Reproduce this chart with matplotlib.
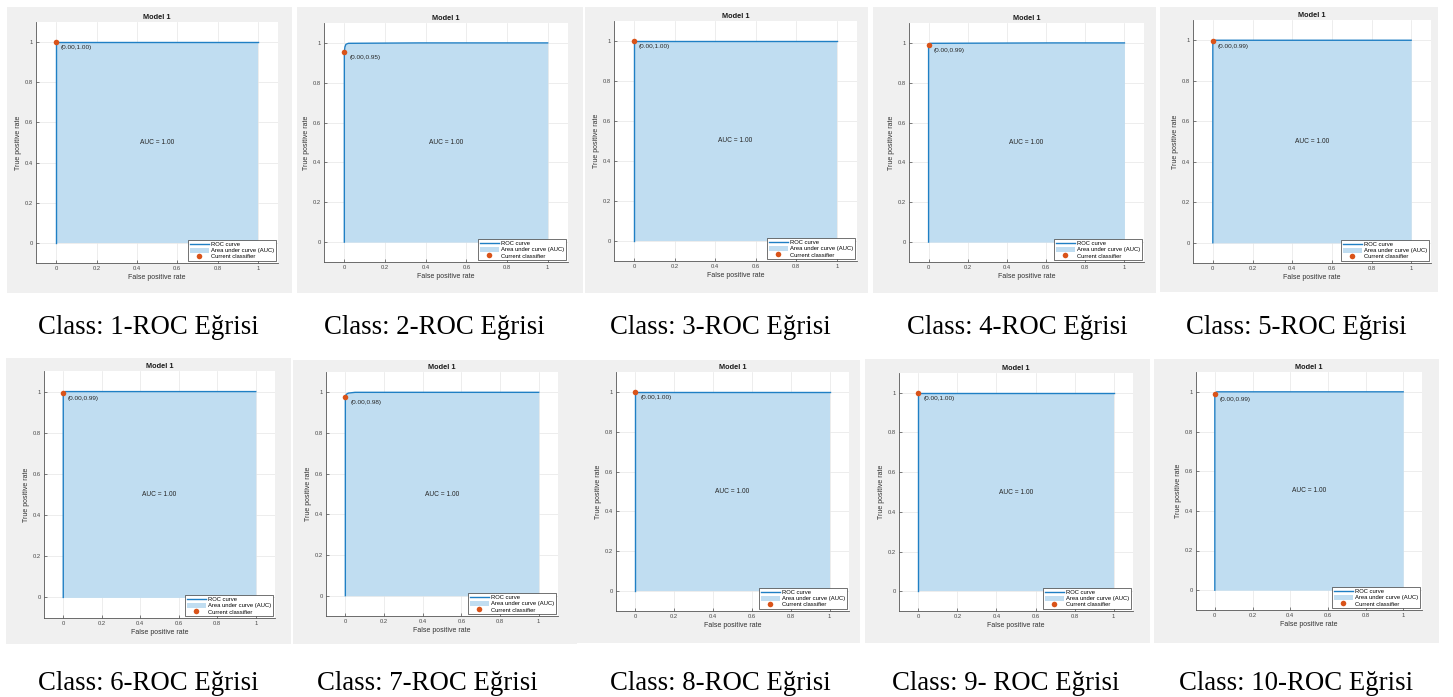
import matplotlib
matplotlib.use("Agg")
import matplotlib.pyplot as plt
from matplotlib.patches import Rectangle

W, H = 1453, 697

# ---- data ----
captions = ["Class: 1-ROC Eğrisi", "Class: 2-ROC Eğrisi", "Class: 3-ROC Eğrisi",
            "Class: 4-ROC Eğrisi", "Class: 5-ROC Eğrisi", "Class: 6-ROC Eğrisi",
            "Class: 7-ROC Eğrisi", "Class: 8-ROC Eğrisi", "Class: 9- ROC Eğrisi",
            "Class: 10-ROC Eğrisi"]
auc_values = [1.00, 1.00, 1.00, 1.00, 1.00, 1.00, 1.00, 1.00, 1.00, 1.00]
op_fpr = [0.00, 0.00, 0.00, 0.00, 0.00, 0.00, 0.00, 0.00, 0.00, 0.00]
op_tpr = [1.00, 0.95, 1.00, 0.99, 0.99, 0.99, 0.98, 1.00, 1.00, 0.99]
op_fpr_shown = [0.00, 0.00, 0.00, 0.00, 0.00, 0.00, 0.00, 0.00, 0.00, 0.00]
op_tpr_shown = [1.00, 0.955, 1.00, 0.99, 0.995, 0.995, 0.975, 1.00, 1.00, 0.99]

roc_fpr = [
    [0, 0, 1],
    [0, 0, 0.003, 0.008, 0.02, 0.37, 1],
    [0, 0, 1],
    [0, 0, 0.01, 0.64, 1],
    [0, 0, 0.01, 1],
    [0, 0, 0.01, 1],
    [0, 0, 0.005, 0.015, 0.05, 1],
    [0, 0, 1],
    [0, 0, 1],
    [0, 0, 0.01, 1],
]
roc_tpr = [
    [0, 1, 1],
    [0, 0.955, 0.98, 0.993, 0.998, 1, 1],
    [0, 1, 1],
    [0, 0.99, 0.998, 1, 1],
    [0, 0.995, 1, 1],
    [0, 0.995, 1, 1],
    [0, 0.975, 0.99, 0.996, 1, 1],
    [0, 1, 1],
    [0, 1, 1],
    [0, 0.99, 1, 1],
]

# ---- layout (pixels, top-left origin) ----
panel_px = [(7, 7, 292, 293), (297, 7, 583, 293), (585, 7, 868, 293),
            (873, 7, 1156, 293), (1160, 7, 1438, 292),
            (6, 358, 291, 644), (293, 360, 577, 644), (576, 360, 860, 643),
            (865, 359, 1150, 643), (1154, 359, 1439, 643)]
axes_px = [(36, 22, 278, 263), (324, 23, 568, 262), (614, 21, 857, 261),
           (909, 23, 1144, 262), (1193, 20, 1431, 263),
           (44, 371, 275, 618), (326, 372, 558, 616), (616, 372, 849, 611),
           (899, 373, 1133, 611), (1196, 372, 1422, 610)]
caption_px = [(148, 327), (434, 327), (720, 327), (1017, 327), (1296, 327),
              (148, 683), (427, 683), (720, 683), (1006, 683), (1296, 683)]

plt.rcParams['font.family'] = ['Liberation Sans', 'DejaVu Sans']

blue = '#1f7fc4'
fill = '#c0ddf1'
orange = '#d95319'
tickc = '#4a4a4a'

fig = plt.figure(figsize=(W / 100, H / 100), dpi=100)


def frac(r):
    x0, y0, x1, y1 = r
    return [x0 / W, 1 - y1 / H, (x1 - x0) / W, (y1 - y0) / H]


for i in range(10):
    # grey window background, kept behind the axes
    px = frac(panel_px[i])
    fig.patches.append(Rectangle((px[0], px[1]), px[2], px[3], transform=fig.transFigure,
                                 facecolor='#f0f0f0', edgecolor='none', zorder=-5))

    ax = fig.add_axes(frac(axes_px[i]))
    ax.set_facecolor('white')
    area = ax.fill_between(roc_fpr[i], roc_tpr[i], 0, color=fill, linewidth=0, zorder=1)
    line, = ax.plot(roc_fpr[i], roc_tpr[i], color=blue, lw=1.0, zorder=2)
    dot, = ax.plot(op_fpr_shown[i], op_tpr_shown[i], 'o', color=orange, ms=4,
                   markeredgewidth=0, zorder=3, clip_on=False)
    ax.annotate("(%.2f,%.2f)" % (op_fpr[i], op_tpr[i]), (op_fpr_shown[i], op_tpr_shown[i]),
                xytext=(3.5, -4), textcoords='offset points', ha='left', va='center',
                fontsize=4.6, color='#262626')
    ax.text(0.5, 0.5, "AUC = %.2f" % auc_values[i], ha='center', va='center',
            fontsize=4.8, color='#262626')

    ax.set_xlim(-0.1, 1.1)
    ax.set_ylim(-0.1, 1.1)
    ticks = [0, 0.2, 0.4, 0.6, 0.8, 1]
    ax.set_xticks(ticks)
    ax.set_yticks(ticks)
    ax.set_xticklabels(["0", "0.2", "0.4", "0.6", "0.8", "1"])
    ax.set_yticklabels(["0", "0.2", "0.4", "0.6", "0.8", "1"])
    ax.tick_params(direction='in', length=2, width=0.5, labelsize=4.2,
                   colors=tickc, pad=2.5)
    ax.grid(True, color='#e6e6e6', lw=0.5, zorder=0)
    ax.set_axisbelow(True)
    for s in ['top', 'right']:
        ax.spines[s].set_visible(False)
    for s in ['left', 'bottom']:
        ax.spines[s].set_color('#555555')
        ax.spines[s].set_linewidth(0.6)

    ax.set_title("Model 1", fontsize=5.3, fontweight='bold', color='#1a1a1a', pad=2.5)
    ax.set_xlabel("False positive rate", fontsize=5, color='#333333', labelpad=1.5)
    ax.set_ylabel("True positive rate", fontsize=5, color='#333333', labelpad=2)

    leg = ax.legend([line, area, dot], ["ROC curve", "Area under curve (AUC)", "Current classifier"],
                    loc='lower right', fontsize=4.2, frameon=True, fancybox=False,
                    borderaxespad=0.35, borderpad=0.25, labelspacing=0.15,
                    handlelength=3.3, handleheight=0.9, handletextpad=0.4)
    leg.get_frame().set_edgecolor('#3a3a3a')
    leg.get_frame().set_linewidth(0.5)
    leg.get_frame().set_alpha(1)

    cx, cy = caption_px[i]
    fig.text(cx / W, 1 - cy / H, captions[i], ha='center', va='center',
             fontsize=19.3, family=['Liberation Serif', 'DejaVu Serif'], color='black')

fig.savefig("out.png", dpi=100, facecolor='white')
